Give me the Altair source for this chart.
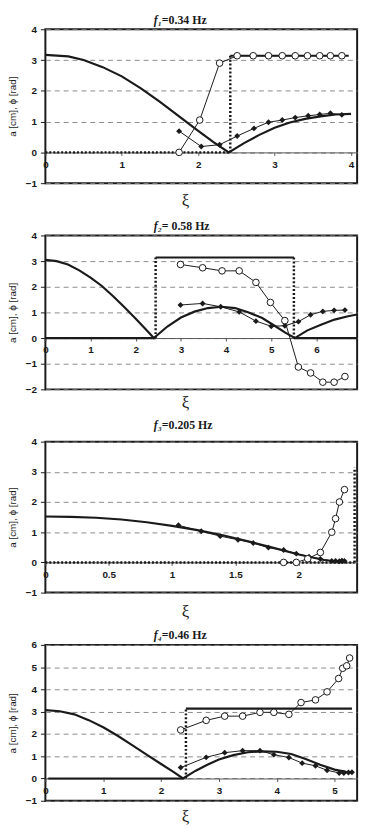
import altair as alt
import pandas as pd

# ---------------- panel 1 : f1 = 0.34 Hz ----------------
p1_theory_amp_x = [0, 0.3, 0.5, 0.75, 1.0, 1.25, 1.5, 1.75, 2.0, 2.2, 2.4, 2.6, 2.8, 3.0, 3.2, 3.4, 3.6, 3.8, 4.0]
p1_theory_amp_y = [3.17, 3.12, 3.0, 2.77, 2.47, 2.08, 1.64, 1.17, 0.7, 0.33, 0.0, 0.3, 0.57, 0.8, 0.97, 1.09, 1.17, 1.23, 1.25]
p1_meas_amp_x = [1.75, 2.04, 2.28, 2.51, 2.73, 2.92, 3.10, 3.27, 3.44, 3.59, 3.73, 3.88]
p1_meas_amp_y = [0.69, 0.19, 0.25, 0.53, 0.78, 0.98, 1.05, 1.13, 1.19, 1.23, 1.27, 1.22]
p1_meas_phi_x = [1.75, 2.02, 2.28, 2.51, 2.72, 2.92, 3.10, 3.27, 3.43, 3.59, 3.73, 3.88]
p1_meas_phi_y = [0.0, 1.05, 2.9, 3.14, 3.14, 3.14, 3.14, 3.14, 3.14, 3.14, 3.14, 3.14]
# theoretical phase: segments (x_start, x_end, y_start, y_end, style)
p1_theory_phi = [(0, 2.42, 0, 0, "dotted"), (2.42, 2.42, 0, 3.14, "dotted"), (2.42, 3.97, 3.14, 3.14, "solid")]

# ---------------- panel 2 : f2 = 0.58 Hz ----------------
p2_theory_amp_x = [0, 0.25, 0.5, 0.75, 1.0, 1.25, 1.5, 1.75, 2.0, 2.2, 2.4, 2.7, 3.0, 3.3, 3.6, 3.9,
                   4.2, 4.5, 4.8, 5.1, 5.3, 5.52, 5.8, 6.1, 6.4, 6.7, 6.9]
p2_theory_amp_y = [3.05, 3.0, 2.87, 2.64, 2.36, 2.03, 1.63, 1.2, 0.75, 0.38, 0.0, 0.45, 0.8, 1.03, 1.17, 1.22,
                   1.17, 1.0, 0.78, 0.45, 0.22, 0.0, 0.3, 0.52, 0.72, 0.85, 0.92]
p2_meas_amp_x = [2.99, 3.48, 3.88, 4.29, 4.66, 5.0, 5.3, 5.6, 5.87, 6.14, 6.39, 6.63]
p2_meas_amp_y = [1.29, 1.35, 1.22, 1.02, 0.66, 0.46, 0.48, 0.64, 0.91, 1.04, 1.08, 1.09]
p2_meas_phi_x = [2.99, 3.48, 3.91, 4.29, 4.66, 4.98, 5.3, 5.6, 5.87, 6.14, 6.39, 6.63]
p2_meas_phi_y = [2.87, 2.74, 2.62, 2.62, 2.17, 1.39, 0.68, -1.13, -1.36, -1.72, -1.72, -1.5]
p2_theory_phi = [(0, 2.44, 0, 0, "solid"), (2.44, 2.44, 0, 3.14, "dotted"), (2.44, 5.5, 3.14, 3.14, "solid"),
                 (5.5, 5.5, 3.14, 0, "dotted"), (5.5, 6.9, 0, 0, "solid")]

# ---------------- panel 3 : f3 = 0.205 Hz ----------------
p3_theory_amp_x = [0, 0.2, 0.4, 0.6, 0.8, 1.0, 1.2, 1.4, 1.6, 1.8, 2.0, 2.2, 2.35]
p3_theory_amp_y = [1.52, 1.51, 1.48, 1.42, 1.33, 1.21, 1.07, 0.9, 0.7, 0.48, 0.26, 0.08, 0.0]
p3_meas_amp_x = [1.05, 1.23, 1.38, 1.52, 1.64, 1.76, 1.88, 1.98, 2.08, 2.17, 2.26, 2.29, 2.32, 2.34, 2.36]
p3_meas_amp_y = [1.23, 1.03, 0.87, 0.75, 0.64, 0.49, 0.41, 0.29, 0.19, 0.11, 0.05, 0.05, 0.04, 0.06, 0.05]
p3_meas_phi_x = [1.88, 1.98, 2.07, 2.17, 2.26, 2.29, 2.32, 2.36]
p3_meas_phi_y = [0.0, 0.0, 0.12, 0.33, 1.0, 1.45, 2.0, 2.41]
p3_theory_phi = [(0, 2.44, 0, 0, "dotted"), (2.44, 2.44, 0, 3.14, "dotted")]

# ---------------- panel 4 : f4 = 0.46 Hz ----------------
p4_theory_amp_x = [0, 0.25, 0.5, 0.75, 1.0, 1.25, 1.5, 1.75, 2.0, 2.2, 2.38, 2.6, 2.8, 3.0, 3.25, 3.5,
                   3.75, 4.0, 4.25, 4.5, 4.75, 5.0, 5.2, 5.3]
p4_theory_amp_y = [3.07, 3.02, 2.88, 2.62, 2.3, 1.92, 1.5, 1.07, 0.65, 0.32, 0.0, 0.35, 0.62, 0.85, 1.05, 1.18,
                   1.22, 1.2, 1.1, 0.88, 0.62, 0.4, 0.3, 0.27]
p4_meas_amp_x = [2.34, 2.78, 3.1, 3.41, 3.71, 3.95, 4.21, 4.44, 4.67, 4.87, 5.08, 5.16, 5.24, 5.3]
p4_meas_amp_y = [0.49, 0.95, 1.16, 1.25, 1.25, 1.07, 0.94, 0.69, 0.57, 0.37, 0.25, 0.25, 0.27, 0.28]
p4_meas_phi_x = [2.34, 2.78, 3.1, 3.41, 3.71, 3.95, 4.21, 4.42, 4.67, 4.87, 5.07, 5.14, 5.21, 5.26]
p4_meas_phi_y = [2.18, 2.61, 2.8, 2.8, 2.97, 2.97, 2.88, 3.41, 3.53, 3.89, 4.49, 4.95, 5.06, 5.41]
p4_theory_phi = [(0.05, 2.38, 0, 0, "solid"), (2.43, 2.43, 0, 3.14, "dotted"), (2.43, 5.3, 3.14, 3.14, "solid")]

# panel headings: italic frequency symbol + bold value
title_symbols = ["f₁", "f₂", "f₃", "f₄"]
title_values = ["=0.34 Hz", "= 0.58 Hz", "=0.205 Hz", "=0.46 Hz"]
x_domains = [[0, 4.08], [0, 6.9], [0, 2.46], [0, 5.39]]
y_domains = [[-1, 4], [-2, 4], [-1, 4], [-1, 6]]
x_ticks = [[0, 1, 2, 3, 4], [0, 1, 2, 3, 4, 5, 6], [0, 0.5, 1, 1.5, 2], [0, 1, 2, 3, 4, 5]]
heights = [156, 156, 153, 158]
heading_dy = [-9, -10, -17, -10]   # heading centre above the plot
xi_dy = [18, 14, 20, 17]           # x-axis title centre below the plot
PLOT_W = 316

LABEL_FONT = "Liberation Sans"
SERIF = "Liberation Serif"
INK = "#1a1a1a"


def series_frame(kind, xs, ys):
    return pd.DataFrame({"kind": kind, "x": xs, "y": ys, "x2": xs, "y2": ys,
                         "style": "", "order": list(range(len(xs)))})


def panel(i, th_ax, th_ay, m_ax, m_ay, m_px, m_py, phi_segments):
    seg = pd.DataFrame(phi_segments, columns=["x", "x2", "y", "y2", "style"])
    seg["kind"] = "phi_theory"
    seg["order"] = range(len(seg))
    df = pd.concat([
        series_frame("amp_theory", th_ax, th_ay),
        series_frame("amp_meas", m_ax, m_ay),
        series_frame("phi_meas", m_px, m_py),
        seg,
    ], ignore_index=True)

    h = heights[i]
    ymin, ymax = y_domains[i]
    dist0 = h * (0 - ymin) / (ymax - ymin)  # pixel distance of y=0 above the bottom edge

    x_enc = alt.X("x:Q", scale=alt.Scale(domain=x_domains[i], nice=False, zero=False),
                  axis=alt.Axis(values=x_ticks[i], title=None, grid=False, format="~g",
                                offset=-dist0, domain=True, domainColor="#555", domainWidth=1,
                                ticks=True, tickSize=3, tickColor="#555",
                                labelFont=LABEL_FONT, labelFontWeight="bold", labelFontSize=10,
                                labelColor=INK, labelPadding=4, labelFlush=False))
    y_enc = alt.Y("y:Q", scale=alt.Scale(domain=y_domains[i], nice=False, zero=False),
                  axis=alt.Axis(values=list(range(ymin, ymax + 1)), title="a [cm], ϕ [rad]",
                                grid=True, gridDash=[5, 4], gridColor="#8a8a8a", gridWidth=1,
                                domain=False, ticks=True, tickSize=5, tickColor=INK,
                                labelFont=LABEL_FONT, labelFontWeight="bold", labelFontSize=10,
                                labelColor=INK, labelPadding=4,
                                titleFont=LABEL_FONT, titleFontSize=10, titleFontWeight="normal",
                                titleColor=INK, titlePadding=8))

    base = alt.Chart(df)

    amp_theory = base.mark_line(color=INK, strokeWidth=2.2).encode(
        x=x_enc, y=y_enc, order="order:Q").transform_filter(alt.datum.kind == "amp_theory")

    phi_solid = base.mark_rule(color=INK, strokeWidth=2.2).encode(
        x=x_enc, y=y_enc, x2="x2:Q", y2="y2:Q").transform_filter(
        (alt.datum.kind == "phi_theory") & (alt.datum.style == "solid"))
    phi_dotted = base.mark_rule(color=INK, strokeWidth=2.5, strokeDash=[2, 2]).encode(
        x=x_enc, y=y_enc, x2="x2:Q", y2="y2:Q").transform_filter(
        (alt.datum.kind == "phi_theory") & (alt.datum.style == "dotted"))

    amp_line = base.mark_line(color=INK, strokeWidth=1).encode(
        x=x_enc, y=y_enc, order="order:Q").transform_filter(alt.datum.kind == "amp_meas")
    amp_pts = base.mark_point(shape="diamond", filled=True, color=INK, size=36, opacity=1).encode(
        x=x_enc, y=y_enc).transform_filter(alt.datum.kind == "amp_meas")

    phi_line = base.mark_line(color=INK, strokeWidth=1).encode(
        x=x_enc, y=y_enc, order="order:Q").transform_filter(alt.datum.kind == "phi_meas")
    phi_pts = base.mark_point(shape="circle", filled=True, fill="white", stroke=INK,
                              strokeWidth=1, size=45, opacity=1).encode(
        x=x_enc, y=y_enc).transform_filter(alt.datum.kind == "phi_meas")

    label_df = pd.DataFrame({"sym": [title_symbols[i]], "val": [title_values[i]], "xi": ["ξ"]})
    labels = alt.Chart(label_df)
    head_sym = labels.mark_text(font=SERIF, fontSize=12, fontStyle="italic", fontWeight="bold",
                                color=INK, align="right", baseline="middle").encode(
        text="sym:N", x=alt.value(118), y=alt.value(heading_dy[i]))
    head_val = labels.mark_text(font=SERIF, fontSize=12, fontWeight="bold",
                                color=INK, align="left", baseline="middle").encode(
        text="val:N", x=alt.value(118), y=alt.value(heading_dy[i]))
    xi_title = labels.mark_text(font=SERIF, fontSize=17, color=INK,
                                align="center", baseline="middle").encode(
        text="xi:N", x=alt.value(PLOT_W / 2 - 16), y=alt.value(h + xi_dy[i]))

    return alt.layer(amp_theory, phi_solid, phi_dotted, amp_line, phi_line, amp_pts, phi_pts,
                     head_sym, head_val, xi_title).properties(width=PLOT_W, height=h)


charts = [
    panel(0, p1_theory_amp_x, p1_theory_amp_y, p1_meas_amp_x, p1_meas_amp_y, p1_meas_phi_x, p1_meas_phi_y, p1_theory_phi),
    panel(1, p2_theory_amp_x, p2_theory_amp_y, p2_meas_amp_x, p2_meas_amp_y, p2_meas_phi_x, p2_meas_phi_y, p2_theory_phi),
    panel(2, p3_theory_amp_x, p3_theory_amp_y, p3_meas_amp_x, p3_meas_amp_y, p3_meas_phi_x, p3_meas_phi_y, p3_theory_phi),
    panel(3, p4_theory_amp_x, p4_theory_amp_y, p4_meas_amp_x, p4_meas_amp_y, p4_meas_phi_x, p4_meas_phi_y, p4_theory_phi),
]

chart = alt.vconcat(*charts, spacing=53, bounds="flush").properties(
    padding={"left": 6, "top": 8, "right": 4, "bottom": 0},
    background="white",
).configure_view(stroke=INK, strokeWidth=2)

chart.save("out.html", embed_options={"renderer": "svg", "actions": False})
